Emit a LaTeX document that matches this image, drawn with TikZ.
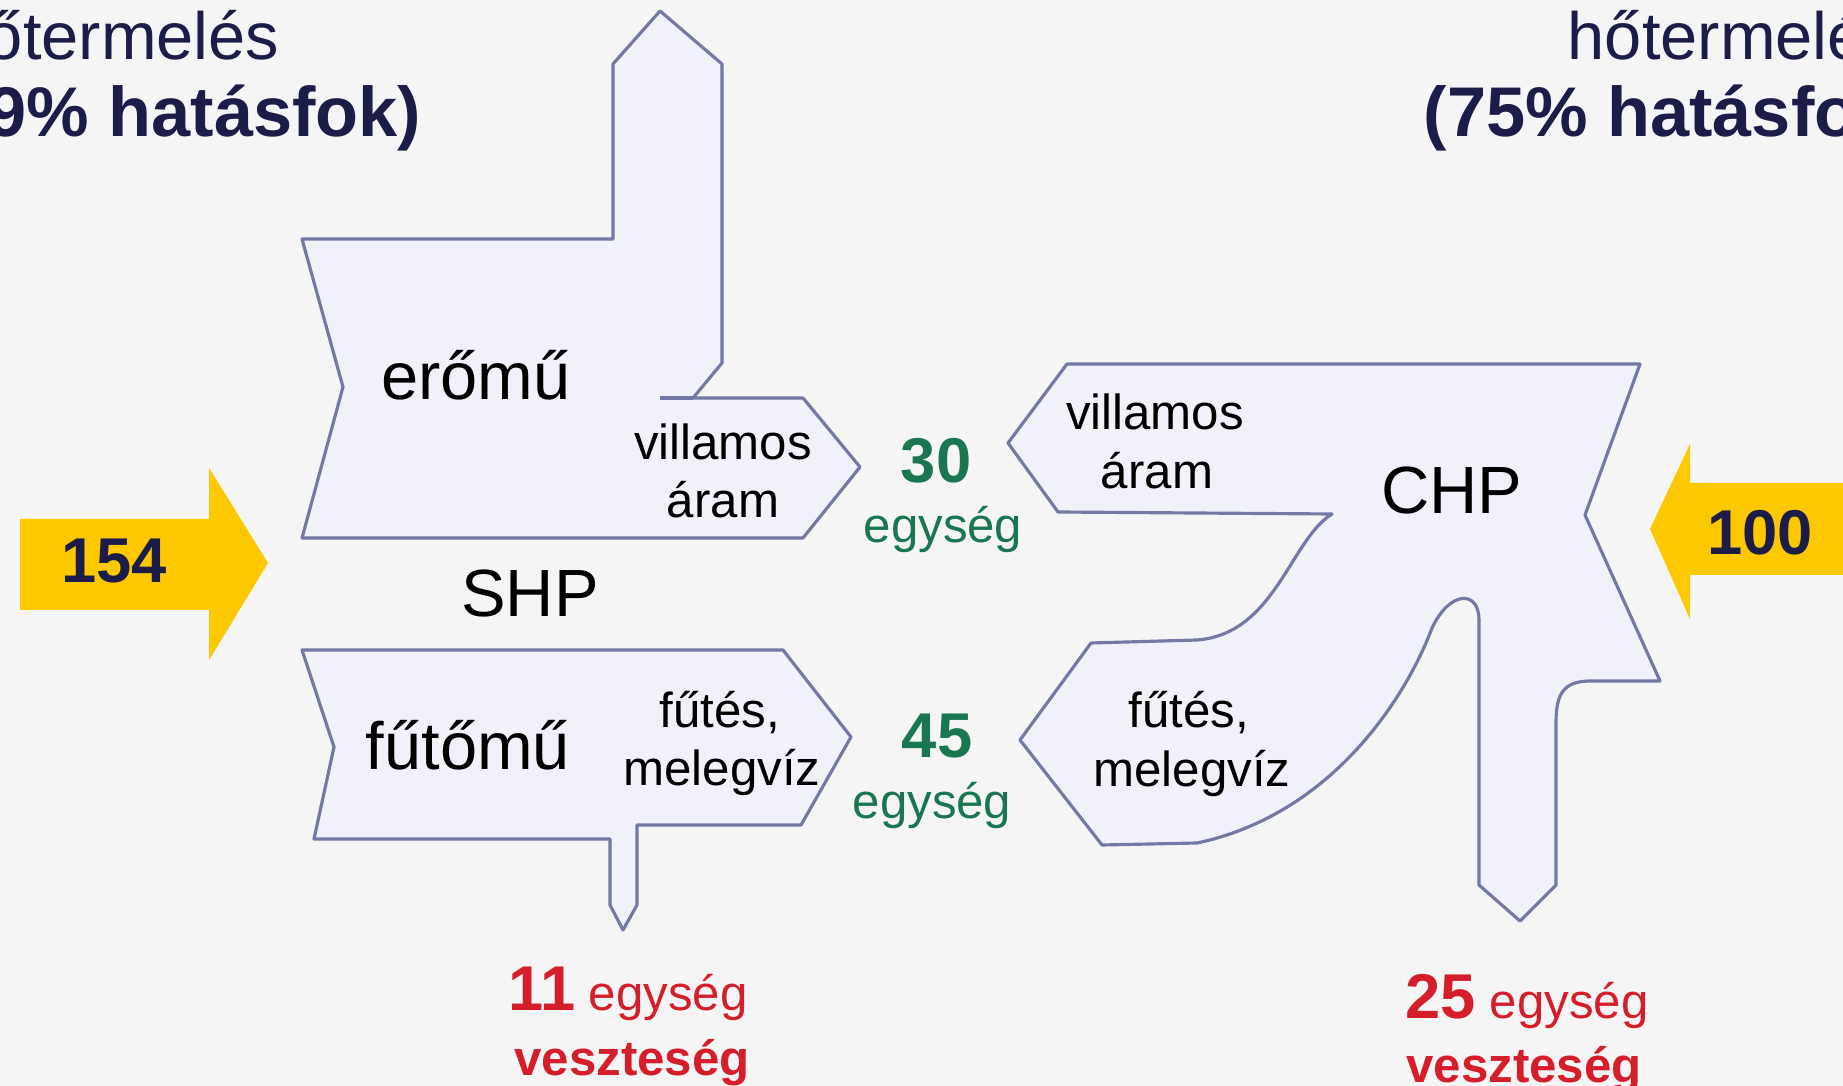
\documentclass[tikz,border=0pt]{standalone}
\usepackage{fontspec}
\setmainfont{Liberation Sans}
\usepackage{tikz}
\definecolor{bgcol}{RGB}{245,245,245}
\definecolor{boxfill}{RGB}{241,241,250}
\definecolor{edgecol}{RGB}{115,120,165}
\definecolor{gold}{RGB}{252,200,0}
\definecolor{navy}{RGB}{28,28,72}
\definecolor{unitgreen}{RGB}{26,118,80}
\definecolor{lossred}{RGB}{214,30,42}
\tikzset{
  lbl/.style={inner sep=0pt,anchor=base,font=\fontsize{19}{22}\selectfont},
  sml/.style={inner sep=0pt,anchor=base,font=\fontsize{14}{16}\selectfont},
  flowbox/.style={draw=edgecol,fill=boxfill,line width=0.9pt,line join=round},
  inarrow/.style={fill=gold},
  head/.style={inner sep=0pt,text=navy},
}

\begin{document}
\begin{tikzpicture}[x=0.01cm,y=-0.01cm]
            \useasboundingbox (0,0) rectangle (1843,1086);
            \clip (0,0) rectangle (1843,1086);
            \fill[bgcol] (0,0) rectangle (1843,1086);

            \node[head,anchor=base east,font=\fontsize{19}{22}\selectfont] (lt1) at (280,60) {hőtermelés};
            \node[head,anchor=base east,font=\bfseries\fontsize{20}{24}\selectfont] (lt2) at (422,137) {(49\% hatásfok)};
            \node[head,anchor=base west,font=\fontsize{19}{22}\selectfont] (rt1) at (1567,60) {hőtermelés};
            \node[head,anchor=base west,font=\bfseries\fontsize{20}{24}\selectfont] (rt2) at (1423,137) {(75\% hatásfok)};

            \fill[inarrow] (20,519) -- (209,519) -- (209,468) -- (268,563) -- (209,660) -- (209,610) -- (20,610) -- cycle;
            \fill[inarrow] (1850,483) -- (1690,483) -- (1690,444) -- (1650,529) -- (1690,619) -- (1690,575) -- (1850,575) -- cycle;
            \node[head,anchor=base,font=\bfseries\fontsize{18}{20}\selectfont] (in1) at (114,583) {154};
            \node[head,anchor=base,font=\bfseries\fontsize{18}{20}\selectfont] (in2) at (1760,555) {100};

            \draw[flowbox] (302,239) -- (613,239) -- (613,64) -- (660,11) -- (722,64) -- (722,363) -- (693,398) -- (803,398) -- (860,467) -- (803,538) -- (302,538) -- (343,387) -- cycle;
            \draw[flowbox] (660,398) -- (693,398);
            \draw[flowbox] (302,650) -- (783,650) -- (851,737) -- (801,825) -- (637,825) -- (637,905) -- (623,930) -- (610,905) -- (610,839) -- (314,839) -- (334,747) -- cycle;
            \draw[flowbox] (1067,364) -- (1640,364) -- (1585,515) -- (1660,681) -- (1591,681)
                .. controls (1565,681) and (1556,692) .. (1556,722) -- (1556,885) -- (1520,921) -- (1479,885) -- (1479,620)
                .. controls (1479,590) and (1450,590) .. (1432,628)
                .. controls (1405,700) and (1330,815) .. (1197,843) -- (1102,845) -- (1020,740) -- (1091,643) -- (1197,640)
                .. controls (1275,634) and (1290,540) .. (1332,514) -- (1058,512) -- (1008,443) -- cycle;

            \node[lbl] (erom) at (476,400) {erőmű};
            \node[sml] (va1) at (723,460) {villamos};
            \node[sml] (va2) at (723,518) {áram};
            \node[lbl] (shp) at (530,617) {SHP};
            \node[lbl] (futom) at (468,769) {fűtőmű};
            \node[sml] (fm1) at (720,728) {fűtés,};
            \node[sml] (fm2) at (722,785) {melegvíz};

            \node[sml] (cva1) at (1155,430) {villamos};
            \node[sml] (cva2) at (1157,489) {áram};
            \node[lbl] (chp) at (1452,514) {CHP};
            \node[sml] (cfm1) at (1189,728) {fűtés,};
            \node[sml] (cfm2) at (1192,787) {melegvíz};

            \node[sml,text=unitgreen,font=\bfseries\fontsize{18}{20}\selectfont] (el) at (936,483) {30};
            \node[sml,text=unitgreen] (elu) at (943,543) {egység};
            \node[sml,text=unitgreen,font=\bfseries\fontsize{18}{20}\selectfont] (ht) at (937,758) {45};
            \node[sml,text=unitgreen] (htu) at (932,818) {egység};

            \node[sml,text=lossred] (loss1) at (628,1010) {{\bfseries\fontsize{18}{20}\selectfont 11} egység};
            \node[sml,text=lossred,font=\bfseries\fontsize{14}{16}\selectfont] (loss1b) at (632,1075) {veszteség};
            \node[sml,text=lossred] (loss2) at (1527,1018) {{\bfseries\fontsize{18}{20}\selectfont 25} egység};
            \node[sml,text=lossred,font=\bfseries\fontsize{14}{16}\selectfont] (loss2b) at (1524,1082) {veszteség};
        \end{tikzpicture}
\end{document}
